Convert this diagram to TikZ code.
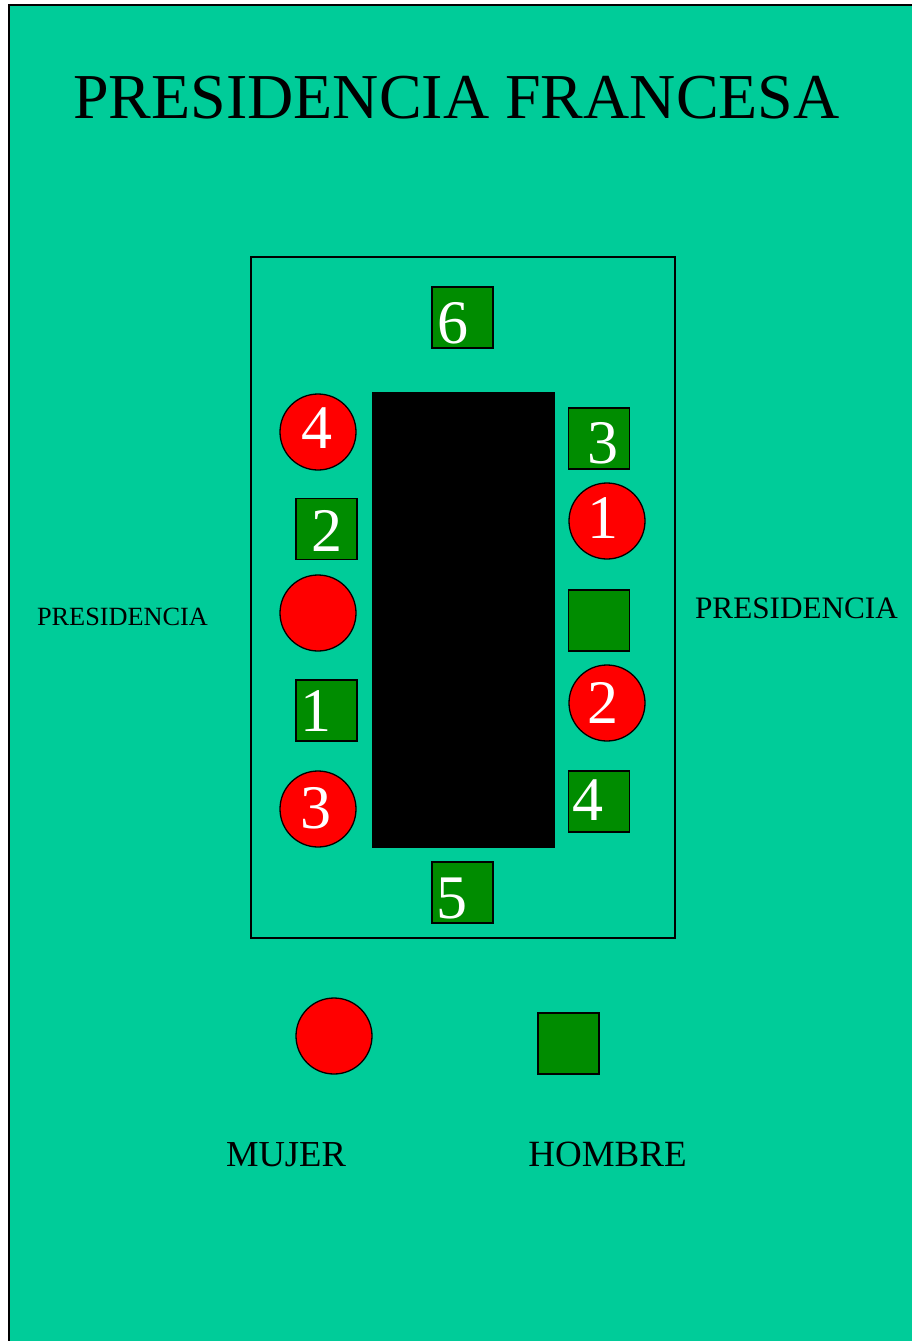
\documentclass[tikz,border=0pt]{standalone}
\usepackage{fontspec}
\setmainfont{Liberation Serif}
\usepackage{xcolor}
\usetikzlibrary{positioning}
\definecolor{fondo}{HTML}{00CC99}
\definecolor{rojo}{HTML}{FF0000}
\definecolor{verde}{HTML}{008C00}

\begin{document}
\begin{tikzpicture}[x=1pt, y=-1pt,
    mujer/.style={circle, draw, fill=rojo, minimum size=76pt, inner sep=0pt, line width=1.3pt},
    hombre/.style={rectangle, draw, fill=verde, minimum size=61pt, inner sep=0pt, line width=1.3pt},
    num/.style={inner sep=0pt, text=white, font=\fontsize{62}{62}\selectfont},
    rotulo/.style={inner sep=0pt, anchor=base}
]
\useasboundingbox (0,0) rectangle (912,1341);
\clip (0,0) rectangle (912,1341);

% fondo y marco
\draw[fill=fondo, line width=2pt] (9,5) rectangle (940,1370);
\node[rotulo, font=\fontsize{64}{64}\selectfont] (titulo) at (456.5,118) {PRESIDENCIA FRANCESA};

% sala y mesa
\draw[line width=1.2pt] (251,257) rectangle (675,938);
\node[rectangle, fill=black, minimum width=183pt, minimum height=456pt, inner sep=0pt] (mesa) at (463.5,620) {};

% puestos
\node[hombre] (h6) at (462.5,317.5) {};
\node[hombre] (h5) at (462.5,892.5) {};
\node[hombre] (h3) at (599,438.5) {};
\node[hombre] (h0) at (599,620.5) {};
\node[hombre] (h4) at (599,801.5) {};
\node[hombre] (h2) at (326.5,529) {};
\node[hombre] (h1) at (326.5,710.5) {};
\node[mujer] (m4) at (318,432) {};
\node[mujer] (m0) at (318,613) {};
\node[mujer] (m3) at (318,809) {};
\node[mujer] (m1) at (607,521) {};
\node[mujer] (m2) at (607,703) {};

% numeros
\node[num] at (453,323) {6};
\node[num] at (452,898) {5};
\node[num] at (603,443) {3};
\node[num] at (588,800) {4};
\node[num] at (327,531) {2};
\node[num] at (316,711) {1};
\node[num] at (317,428) {4};
\node[num] at (316,808) {3};
\node[num] at (603,518) {1};
\node[num] at (603,703) {2};

% presidencia
\node[rotulo, font=\fontsize{26.3}{26.3}\selectfont] (presizq) at (122.5,625) {PRESIDENCIA};
\node[rotulo, font=\fontsize{31.2}{31.2}\selectfont] (presder) at (796.5,618) {PRESIDENCIA};

% leyenda
\node[mujer] (leymujer) at (334,1036) {};
\node[hombre] (leyhombre) at (568.5,1043.5) {};
\node[rotulo, font=\fontsize{36.6}{36.6}\selectfont] (txtmujer) at (286,1166) {MUJER};
\node[rotulo, font=\fontsize{37}{37}\selectfont] (txthombre) at (607.5,1166) {HOMBRE};

\end{tikzpicture}
\end{document}
